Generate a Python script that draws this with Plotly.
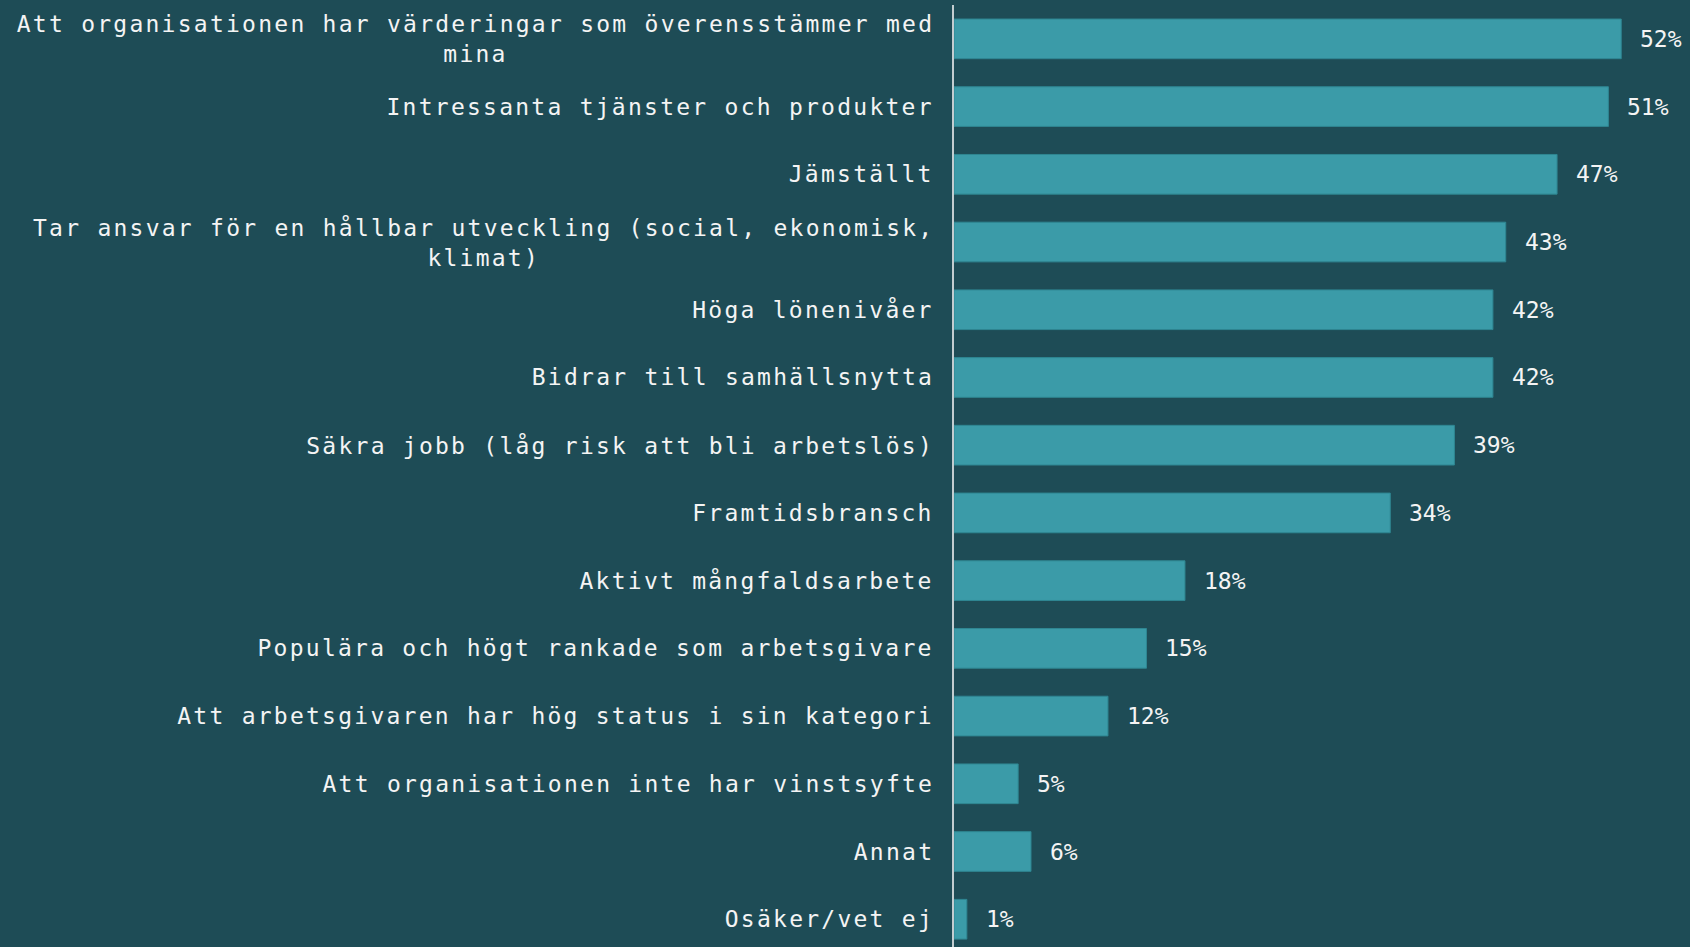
import plotly.graph_objects as go

categories = [
    "Att organisationen har värderingar som överensstämmer med<br>mina",
    "Intressanta tjänster och produkter",
    "Jämställt",
    "Tar ansvar för en hållbar utveckling (social, ekonomisk,<br>klimat)",
    "Höga lönenivåer",
    "Bidrar till samhällsnytta",
    "Säkra jobb (låg risk att bli arbetslös)",
    "Framtidsbransch",
    "Aktivt mångfaldsarbete",
    "Populära och högt rankade som arbetsgivare",
    "Att arbetsgivaren har hög status i sin kategori",
    "Att organisationen inte har vinstsyfte",
    "Annat",
    "Osäker/vet ej",
]
values = [52, 51, 47, 43, 42, 42, 39, 34, 18, 15, 12, 5, 6, 1]
value_labels = [f"{v}%" for v in values]

BG = "#1e4c56"
BAR = "#3b9ba8"
TXT = "#f4f4f4"
FONT = "DejaVu Sans Mono"

fig = go.Figure(
    go.Bar(
        x=values,
        y=list(range(len(categories))),
        orientation="h",
        marker=dict(color=BAR, line=dict(color="#2f8692", width=1)),
        hoverinfo="skip",
    )
)

annotations = []
for i, c in enumerate(categories):
    annotations.append(dict(
        xref="paper", yref="y", x=0, y=i, text=c,
        xanchor="right", yanchor="middle",
        align="center" if "<br>" in c else "right",
        xshift=-18, showarrow=False,
        font=dict(family=FONT, size=23, color=TXT),
    ))
for i, (v, lab) in enumerate(zip(values, value_labels)):
    annotations.append(dict(
        xref="x", yref="y", x=v, y=i, text=lab,
        xanchor="left", yanchor="middle", xshift=17, showarrow=False,
        font=dict(family=FONT, size=23, color=TXT),
    ))

fig.update_layout(
    width=1690, height=947,
    paper_bgcolor=BG, plot_bgcolor=BG,
    margin=dict(l=954, r=0, t=5, b=0),
    bargap=0.414,
    showlegend=False,
    annotations=annotations,
    xaxis=dict(range=[0, 57.36], visible=False, fixedrange=True),
    yaxis=dict(range=[13.41, -0.5], showticklabels=False, showgrid=False,
               zeroline=False, showline=True, linecolor="#c3cdd0", linewidth=2,
               ticks="", fixedrange=True),
)

n = len(categories)
post = """
document.documentElement.style.margin = '0';
document.documentElement.style.overflow = 'hidden';
document.body.style.margin = '0';
document.body.style.overflow = 'hidden';
document.body.style.backgroundColor = '%s';
var gd = document.getElementById('{plot_id}');
var anns = gd.querySelectorAll('.annotation');
anns.forEach(function(a){
  var idx = parseInt(a.getAttribute('data-index'));
  if (idx < %d) {
    var t = a.querySelector('.annotation-text');
    if (!t) return;
    var before = t.getBBox();
    t.style.letterSpacing = '2.25px';
    var after = t.getBBox();
    var dx = (before.x + before.width) - (after.x + after.width);
    var cur = t.getAttribute('transform') || '';
    t.setAttribute('transform', cur + ' translate(' + dx + ',0)');
  }
});
""" % (BG, n)

fig.write_html("out.html", config={"displayModeBar": False}, post_script=post)
